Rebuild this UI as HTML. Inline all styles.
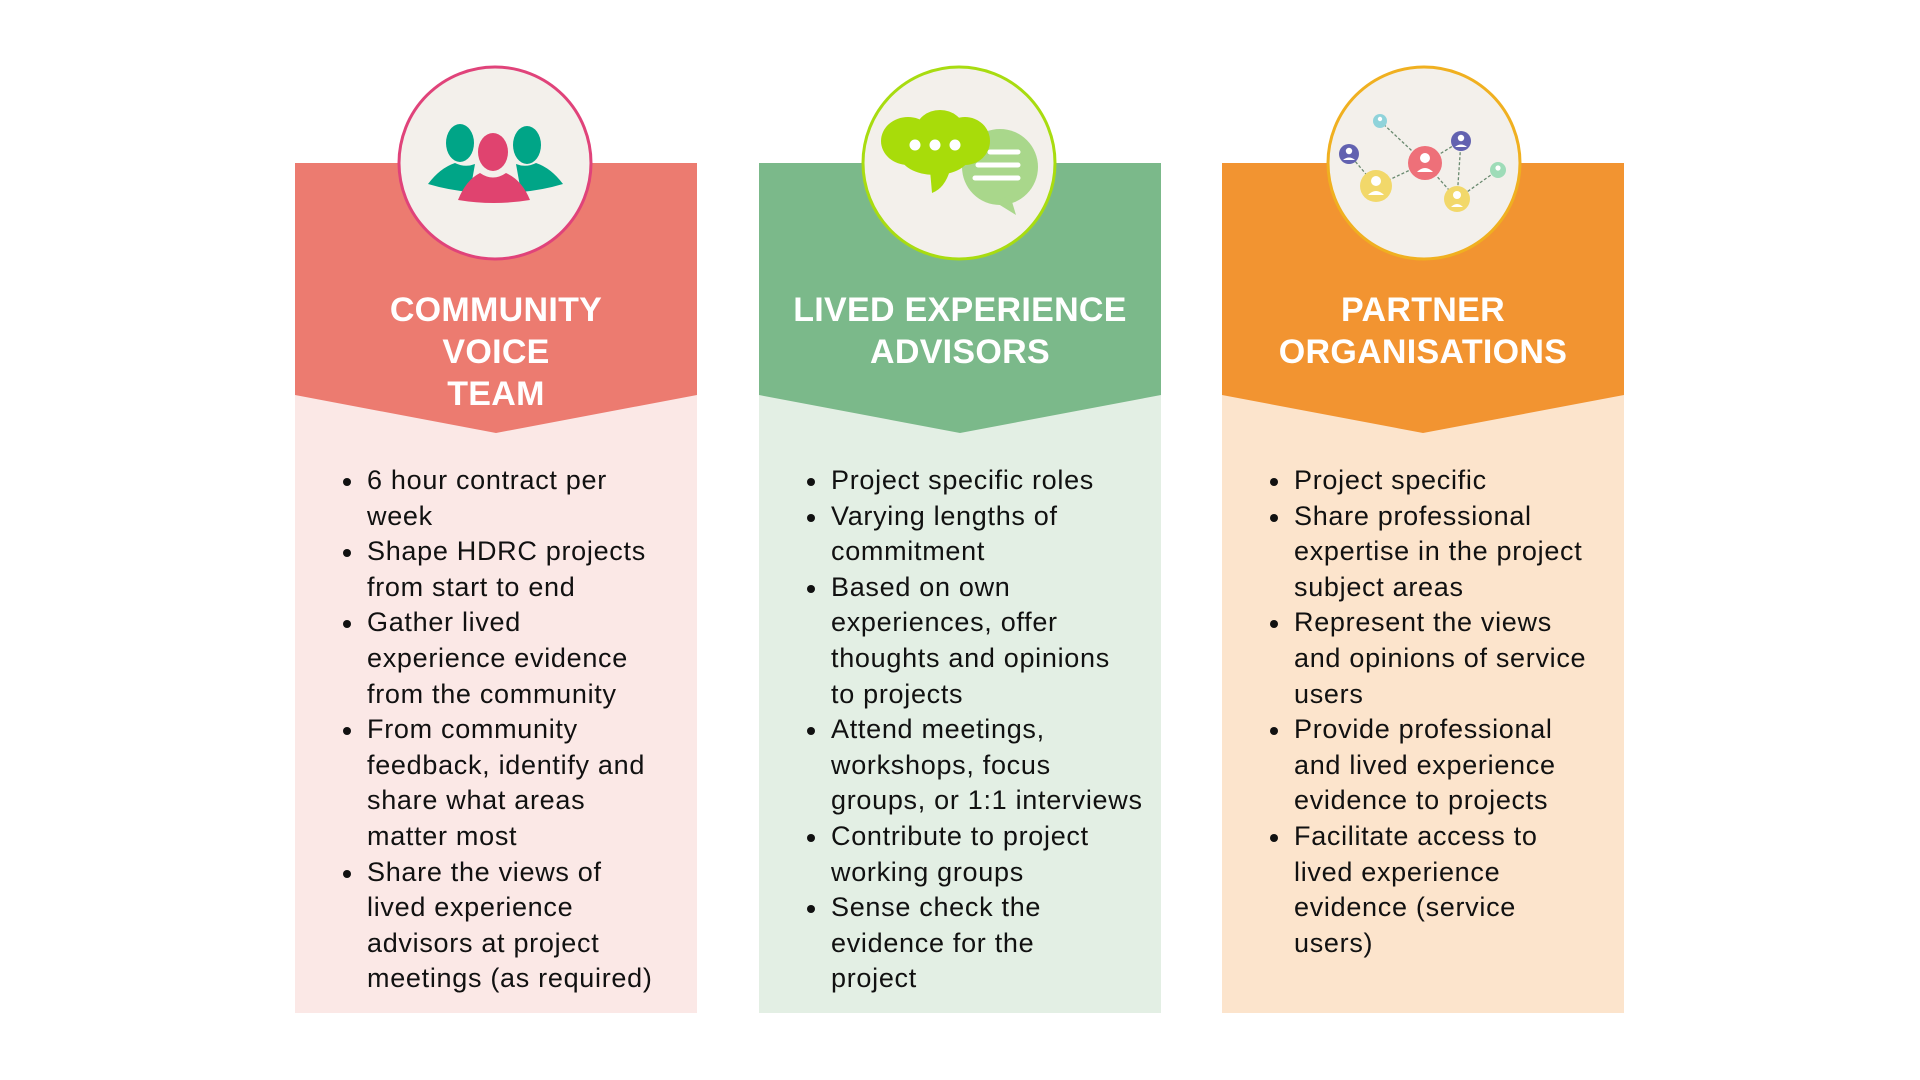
<!DOCTYPE html>
<html><head><meta charset="utf-8"><style>
html,body{margin:0;padding:0;background:#fff;width:1920px;height:1080px;overflow:hidden;position:relative;font-family:"Liberation Sans",sans-serif}
.col{position:absolute;top:0;width:402px;height:1080px}
.t{position:absolute;left:0;width:402px;text-align:center;color:#fff;font-weight:bold;font-size:34px;line-height:42px;top:289px;letter-spacing:0.3px}
.b{position:absolute;top:463px;left:72px;font-size:27px;line-height:35.6px;color:#111;white-space:nowrap;letter-spacing:0.7px}
.b div{position:relative}
.b .d:before{content:"";position:absolute;left:-24px;top:15px;width:8px;height:8px;border-radius:50%;background:#111}
svg{position:absolute;left:0;top:0}
</style></head><body>
<svg width="1920" height="1080">
<!-- col1 -->
<rect x="295" y="163" width="402" height="850" fill="#FBE8E6"/>
<polygon points="295,163 697,163 697,395 496,433 295,395" fill="#EC7B70"/>
<circle cx="495" cy="163" r="96" fill="#F3F0EB" stroke="#E0437A" stroke-width="3"/>
<ellipse cx="460" cy="143" rx="14" ry="19" fill="#00A587"/>
<ellipse cx="527" cy="145" rx="14" ry="19" fill="#00A587"/>
<path d="M428,184 Q440,168 455,163 Q465,168 475,164 L470,192 Q448,190 428,184Z" fill="#00A587"/>
<path d="M563,184 Q551,168 536,163 Q526,168 516,164 L521,192 Q543,190 563,184Z" fill="#00A587"/>
<ellipse cx="493" cy="152" rx="15" ry="19" fill="#E0436F"/>
<path d="M458,200 Q466,180 480,173 Q493,182 506,173 Q522,180 530,200 Q494,206 458,200Z" fill="#E0436F"/>
<!-- col2 -->
<rect x="759" y="163" width="402" height="850" fill="#E3EFE4"/>
<polygon points="759,163 1161,163 1161,395 960,433 759,395" fill="#7BB98A"/>
<circle cx="959" cy="163" r="96" fill="#F3F0EB" stroke="#A8DC10" stroke-width="3"/>
<circle cx="1000" cy="167" r="38" fill="#A9D78B"/>
<path d="M1010,195 L1016,215 L995,202Z" fill="#A9D78B"/>
<line x1="990" y1="152" x2="1018" y2="152" stroke="#fff" stroke-width="5" stroke-linecap="round"/>
<line x1="978" y1="165" x2="1018" y2="165" stroke="#fff" stroke-width="5" stroke-linecap="round"/>
<line x1="975" y1="178" x2="1018" y2="178" stroke="#fff" stroke-width="5" stroke-linecap="round"/>
<g fill="#A8DC0A">
<ellipse cx="908" cy="141" rx="27" ry="24"/>
<ellipse cx="940" cy="130" rx="24" ry="20"/>
<ellipse cx="965" cy="141" rx="25" ry="24"/>
<ellipse cx="935" cy="155" rx="35" ry="20"/>
<path d="M930,170 L932,193 Q945,188 950,170Z"/>
</g>
<circle cx="915" cy="145" r="5.5" fill="#fff"/><circle cx="935" cy="145" r="5.5" fill="#fff"/><circle cx="955" cy="145" r="5.5" fill="#fff"/>
<!-- col3 -->
<rect x="1222" y="163" width="402" height="850" fill="#FCE4CC"/>
<polygon points="1222,163 1624,163 1624,395 1423,433 1222,395" fill="#F29431"/>
<circle cx="1424" cy="163" r="96" fill="#F3F0EB" stroke="#F0B020" stroke-width="3"/>
<g stroke="#6a8a70" stroke-width="1.3" stroke-dasharray="3,2" fill="none">
<path d="M1380,121 L1425,163 L1461,141 L1457,199 L1498,170"/><path d="M1349,154 L1376,186 L1425,163 L1457,199"/>
</g>
<g>
<circle cx="1380" cy="121" r="7" fill="#8FD3DA"/><circle cx="1349" cy="154" r="10" fill="#6262B0"/>
<circle cx="1376" cy="186" r="16" fill="#F2D86A"/><circle cx="1425" cy="163" r="17" fill="#EE7079"/>
<circle cx="1461" cy="141" r="10" fill="#6262B0"/><circle cx="1457" cy="199" r="13" fill="#F2D86A"/>
<circle cx="1498" cy="170" r="8" fill="#9EDCB8"/>
</g>
<g fill="#fff">
<circle cx="1380" cy="119" r="2.2"/><circle cx="1349" cy="151" r="3.2"/><circle cx="1376" cy="181" r="5"/><circle cx="1425" cy="158" r="5"/><circle cx="1461" cy="138" r="3.2"/><circle cx="1457" cy="195" r="4"/><circle cx="1498" cy="168" r="2.6"/>
<path d="M1368,195 Q1376,187 1384,195Z"/><path d="M1417,172 Q1425,164 1433,172Z"/><path d="M1451,207 Q1457,201 1463,207Z"/><path d="M1343,160 Q1349,155 1355,160Z"/><path d="M1455,147 Q1461,142 1467,147Z"/>
</g>
</svg>

<div class="col" style="left:295px">
<div class="t">COMMUNITY<br>VOICE<br>TEAM</div>
<div class="b">
<div class="d">6 hour contract per</div><div>week</div>
<div class="d">Shape HDRC projects</div><div>from start to end</div>
<div class="d">Gather lived</div><div>experience evidence</div><div>from the community</div>
<div class="d">From community</div><div>feedback, identify and</div><div>share what areas</div><div>matter most</div>
<div class="d">Share the views of</div><div>lived experience</div><div>advisors at project</div><div>meetings (as required)</div>
</div></div>

<div class="col" style="left:759px">
<div class="t">LIVED EXPERIENCE<br>ADVISORS</div>
<div class="b">
<div class="d">Project specific roles</div>
<div class="d">Varying lengths of</div><div>commitment</div>
<div class="d">Based on own</div><div>experiences, offer</div><div>thoughts and opinions</div><div>to projects</div>
<div class="d">Attend meetings,</div><div>workshops, focus</div><div>groups, or 1:1 interviews</div>
<div class="d">Contribute to project</div><div>working groups</div>
<div class="d">Sense check the</div><div>evidence for the</div><div>project</div>
</div></div>

<div class="col" style="left:1222px">
<div class="t">PARTNER<br>ORGANISATIONS</div>
<div class="b">
<div class="d">Project specific</div>
<div class="d">Share professional</div><div>expertise in the project</div><div>subject areas</div>
<div class="d">Represent the views</div><div>and opinions of service</div><div>users</div>
<div class="d">Provide professional</div><div>and lived experience</div><div>evidence to projects</div>
<div class="d">Facilitate access to</div><div>lived experience</div><div>evidence (service</div><div>users)</div>
</div></div>
</body></html>
